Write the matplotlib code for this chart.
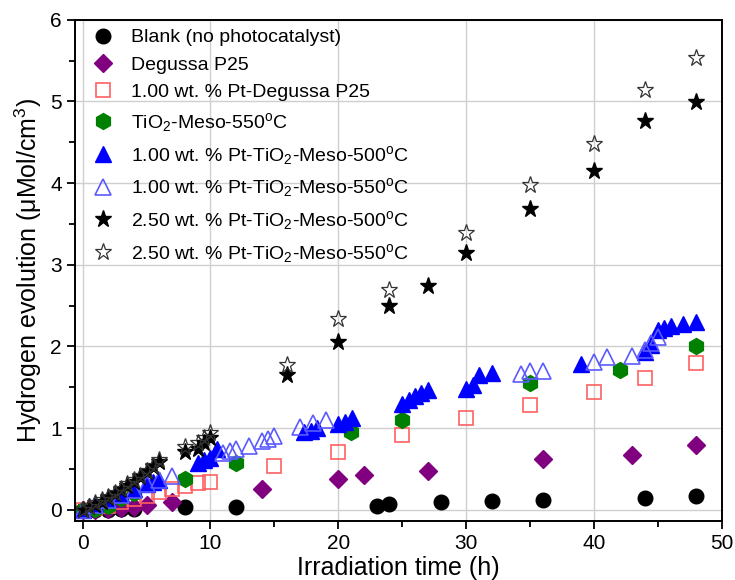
import matplotlib
matplotlib.use("Agg")
import matplotlib.pyplot as plt
from matplotlib.ticker import MultipleLocator

plt.rcParams['font.family'] = ['Liberation Sans', 'DejaVu Sans']
plt.rcParams['mathtext.fontset'] = 'custom'
plt.rcParams['mathtext.rm'] = 'Liberation Sans'
plt.rcParams['mathtext.it'] = 'Liberation Sans:italic'

# Hydrogen evolution (uMol/cm3) versus irradiation time (h)
blank_t = [0, 1, 2, 3, 4, 8, 12, 23, 24, 28, 32, 36, 44, 48]
blank_h = [0, 0, 0, 0.01, 0.01, 0.03, 0.04, 0.05, 0.075, 0.09, 0.11, 0.12, 0.14, 0.17]

p25_t = [0, 1, 2, 3, 4, 5, 7, 14, 20, 22, 27, 36, 43, 48]
p25_h = [0, 0.0, 0.01, 0.02, 0.04, 0.06, 0.09, 0.25, 0.38, 0.43, 0.48, 0.62, 0.67, 0.79]

pt_p25_t = [0, 1, 2, 3, 4, 5, 6, 7, 8, 9, 10, 15, 20, 25, 30, 35, 40, 44, 48]
pt_p25_h = [0, 0.02, 0.05, 0.09, 0.13, 0.17, 0.22, 0.25, 0.29, 0.33, 0.34,
            0.54, 0.71, 0.91, 1.12, 1.28, 1.44, 1.61, 1.80]

meso_t = [0, 1, 2, 3, 4, 8, 12, 21, 25, 35, 42, 48]
meso_h = [0, 0.01, 0.05, 0.14, 0.21, 0.38, 0.57, 0.95, 1.10, 1.55, 1.71, 2.0]

pt1_500_t = [0, 1, 2, 3, 4, 5, 5.5, 6, 9, 9.5, 10, 10.5, 17.3, 17.9, 18.3,
             20, 20.5, 21.1, 25, 25.5, 26, 26.5, 27, 30, 30.5, 31, 32, 39,
             44, 44.5, 45, 45.5, 46, 47, 48]
pt1_500_h = [0, 0.07, 0.13, 0.19, 0.25, 0.31, 0.34, 0.36, 0.57, 0.61, 0.63, 0.75,
             0.95, 0.97, 1.0, 1.05, 1.08, 1.12, 1.29, 1.34, 1.39, 1.43, 1.47,
             1.48, 1.53, 1.65, 1.68, 1.78, 1.93, 2.02, 2.2, 2.23, 2.25, 2.27, 2.3]

pt1_550_t = [0, 1, 2, 3, 4, 5, 6, 7, 11, 11.5, 12, 13, 14, 14.5, 15, 17, 18, 19,
             34.3, 35, 36, 40, 41, 43, 44, 44.5, 45]
pt1_550_h = [0, 0.06, 0.12, 0.18, 0.24, 0.31, 0.37, 0.42, 0.69, 0.72, 0.75, 0.78,
             0.84, 0.87, 0.9, 1.01, 1.06, 1.1, 1.66, 1.7, 1.7, 1.81, 1.87, 1.88,
             1.96, 2.04, 2.11]

pt25_500_t = [0, 0.5, 1, 1.5, 2, 2.5, 3, 3.5, 4, 4.5, 5, 5.5, 6, 8, 9, 9.5, 10,
              16, 20, 24, 27, 30, 35, 40, 44, 48]
pt25_500_h = [0, 0.03, 0.06, 0.1, 0.14, 0.19, 0.24, 0.29, 0.34, 0.4, 0.46, 0.52,
              0.58, 0.71, 0.75, 0.82, 0.88, 1.65, 2.06, 2.5, 2.74, 3.14, 3.68,
              4.15, 4.76, 4.99]

pt25_550_t = [0, 0.5, 1, 1.5, 2, 2.5, 3, 3.5, 4, 4.5, 5, 5.5, 6, 8, 9, 9.5, 10,
              16, 20, 24, 30, 35, 40, 44, 48]
pt25_550_h = [0, 0.04, 0.08, 0.12, 0.16, 0.21, 0.26, 0.31, 0.36, 0.42, 0.48, 0.54,
              0.61, 0.77, 0.82, 0.88, 0.94, 1.77, 2.33, 2.69, 3.39, 3.98, 4.48,
              5.14, 5.53]

fig = plt.figure(figsize=(7.35, 5.8), dpi=100)
ax = fig.add_axes([0.102, 0.102, 0.880, 0.864])

ax.plot(blank_t, blank_h, 'o', ms=10.5, color='black', mec='black', ls='none',
        label='Blank (no photocatalyst)')
ax.plot(p25_t, p25_h, 'D', ms=9, color='#800080', mec='#800080', ls='none',
        label='Degussa P25')
ax.plot(pt_p25_t, pt_p25_h, 's', ms=9.5, mfc='none', mec='#FF6060', mew=1.2, ls='none',
        label='1.00 wt. % Pt-Degussa P25')
ax.plot(meso_t, meso_h, 'h', ms=11.5, color='#008000', mec='#008000', ls='none',
        label=r'TiO$_2$-Meso-550$^\mathrm{o}$C')
ax.plot(pt1_500_t, pt1_500_h, '^', ms=11.5, color='#0000FF', mec='#0000FF', ls='none',
        label=r'1.00 wt. % Pt-TiO$_2$-Meso-500$^\mathrm{o}$C')
ax.plot(pt1_550_t, pt1_550_h, '^', ms=11.5, mfc='none', mec='#5A5AFF', mew=1.2, ls='none',
        label=r'1.00 wt. % Pt-TiO$_2$-Meso-550$^\mathrm{o}$C')
ax.plot(pt25_500_t, pt25_500_h, '*', ms=12.5, color='black', mec='black', ls='none',
        label=r'2.50 wt. % Pt-TiO$_2$-Meso-500$^\mathrm{o}$C')
ax.plot(pt25_550_t, pt25_550_h, '*', ms=12.5, mfc='none', mec='#333333', mew=0.9, ls='none',
        label=r'2.50 wt. % Pt-TiO$_2$-Meso-550$^\mathrm{o}$C')

ax.set_xlim(-0.6, 50)
ax.set_ylim(-0.135, 6)
ax.xaxis.set_major_locator(MultipleLocator(10))
ax.xaxis.set_minor_locator(MultipleLocator(5))
ax.yaxis.set_major_locator(MultipleLocator(1))
ax.yaxis.set_minor_locator(MultipleLocator(0.5))
ax.grid(True, which='major', color='#cfcfcf', lw=1.0)
ax.set_axisbelow(True)

ax.tick_params(which='both', direction='out', top=False, right=False,
               labelsize=15, width=1.3)
ax.tick_params(which='major', length=6)
ax.tick_params(which='minor', length=4)
for s in ax.spines.values():
    s.set_linewidth(1.4)

ax.set_xlabel('Irradiation time (h)', fontsize=18, labelpad=2)
ax.set_ylabel('Hydrogen evolution (μMol/cm$^3$)', fontsize=18, labelpad=4)

leg = ax.legend(loc='upper left', bbox_to_anchor=(0.005, 1.005), frameon=False,
                fontsize=14, handletextpad=0.7, labelspacing=0.5,
                borderaxespad=0.2, handlelength=1.4)

fig.savefig('out.png', dpi=100)
